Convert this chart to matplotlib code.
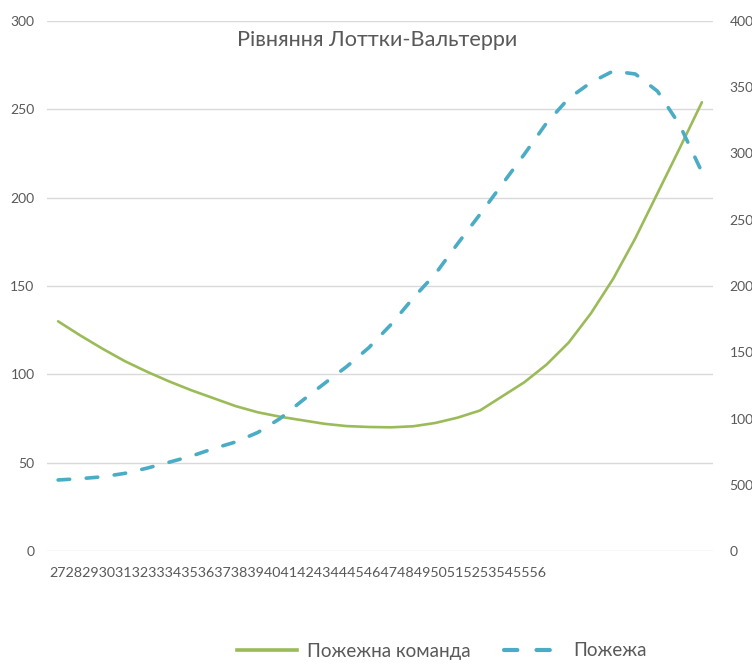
import matplotlib
matplotlib.use("Agg")
import matplotlib.pyplot as plt
from matplotlib.lines import Line2D

# Category labels (days)
x_labels = [str(d) for d in range(27, 57)]

# Population of the fire brigade (left axis)
brigade = [130, 122, 114.5, 107.5, 101.5, 96, 91, 86.5, 82, 78.5,
           76, 74, 72, 70.7, 70.2, 70, 70.6, 72.5, 75.5, 79.5,
           87.5, 95.5, 105.5, 118, 134.5, 154, 177, 202.5, 228, 254]

# Fire (right axis)
fire = [536, 546, 560, 586, 625, 670, 716, 773, 823, 895,
        1000, 1135, 1265, 1392, 1535, 1710, 1910, 2093, 2320, 2540,
        2767, 2994, 3230, 3416, 3536, 3622, 3600, 3470, 3215, 2860]

series_names = ["Пожежна команда", "Пожежа"]
title = "Рівняння Лоттки-Вальтерри"

GREEN = "#9BBB59"
BLUE = "#4BACC6"
GRID = "#D9D9D9"
TEXT = "#595959"

plt.rcParams["font.family"] = ["Lato", "DejaVu Sans"]

fig = plt.figure(figsize=(7.52, 6.64), dpi=100)
ax = fig.add_axes([47 / 752, (664 - 551) / 664, 666 / 752, 530 / 664])
ax2 = ax.twinx()

x = list(range(len(brigade)))

ax.plot(x, brigade, color=GREEN, lw=1.9, solid_capstyle="round", zorder=3)
ax2.plot(x, fire, color=BLUE, lw=2.6, ls=(0, (3.2, 4.6)),
         dash_capstyle="round", zorder=3)

ax.set_xlim(-0.5, len(x) - 0.5)
ax.set_ylim(0, 300)
ax.set_yticks(range(0, 301, 50))
ax2.set_ylim(0, 4000)
ax2.set_yticks(range(0, 4001, 500))

ax.grid(axis="y", color=GRID, lw=1.0)
ax.set_axisbelow(True)
ax.set_xticks([])

for a in (ax, ax2):
    for s in a.spines.values():
        s.set_visible(False)
    a.tick_params(axis="y", length=0, labelsize=10, labelcolor=TEXT)

ax.tick_params(axis="y", pad=9)
ax2.tick_params(axis="y", pad=12)

# Category labels run together along the bottom
ax.text(2 / 666, -0.042, "".join(x_labels), transform=ax.transAxes,
        ha="left", va="center", fontsize=10.25, color=TEXT)

fig.text(377 / 752, 1 - 40 / 664, title, ha="center", va="center",
         fontsize=15.6, color=TEXT)

handles = [
    Line2D([], [], color=GREEN, lw=2.6),
    Line2D([], [], color=BLUE, lw=3.0, ls=(0, (3.2, 4.6)),
           dash_capstyle="round"),
]
fig.legend(handles, series_names, loc="center", ncol=2,
           bbox_to_anchor=(442 / 752, 1 - 651 / 664), frameon=False,
           fontsize=13.5, labelcolor=TEXT, handlelength=3.2,
           handletextpad=0.5, columnspacing=1.8)

fig.savefig("out.png", dpi=100, facecolor="white")
